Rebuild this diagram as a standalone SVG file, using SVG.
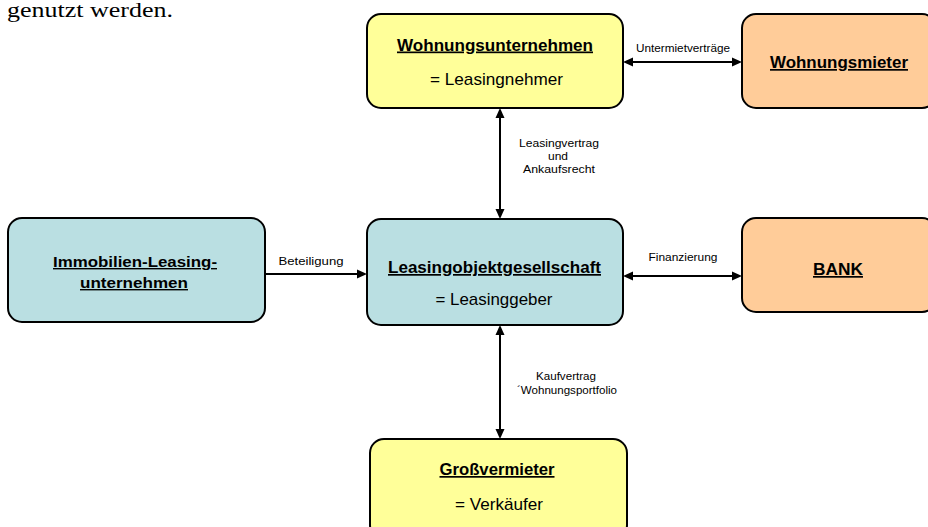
<svg xmlns="http://www.w3.org/2000/svg" width="928" height="527" viewBox="0 0 928 527">
<style>
.box{stroke:#000;stroke-width:2}
.y{fill:#FFFF99}
.b{fill:#BADFE2}
.o{fill:#FFCC99}
.t{font-family:"Liberation Sans",Arial,sans-serif;font-size:17px;fill:#000;text-anchor:middle}
.s{font-size:14px}
.h{font-weight:bold;text-decoration:underline}
.l{font-family:"Liberation Sans",Arial,sans-serif;font-size:11.5px;fill:#000;text-anchor:middle}
.c{stroke:#000;stroke-width:2;fill:none}
</style>
<defs>
<marker id="ah" markerUnits="userSpaceOnUse" markerWidth="10" markerHeight="10" refX="5" refY="4.5" orient="auto-start-reverse" viewBox="0 0 10 9">
<path d="M0,0 L10,4.5 L0,9 z" fill="#000"/>
</marker>
</defs>
<text x="7" y="17" font-family="'Liberation Serif',serif" font-size="20" textLength="166" lengthAdjust="spacingAndGlyphs" fill="#000">genutzt werden.</text>
<g id="connectors">
<line class="c" x1="628" y1="62" x2="737" y2="62" marker-start="url(#ah)" marker-end="url(#ah)"/>
<line class="c" x1="500" y1="113" x2="500" y2="214" marker-start="url(#ah)" marker-end="url(#ah)"/>
<line class="c" x1="265" y1="274" x2="362" y2="274" marker-end="url(#ah)"/>
<line class="c" x1="628" y1="276" x2="737" y2="276" marker-start="url(#ah)" marker-end="url(#ah)"/>
<line class="c" x1="500" y1="330" x2="500" y2="434" marker-start="url(#ah)" marker-end="url(#ah)"/>
<text class="l" x="683" y="52" textLength="94" lengthAdjust="spacingAndGlyphs">Untermietverträge</text>
<text class="l" x="559" y="147" textLength="80" lengthAdjust="spacingAndGlyphs">Leasingvertrag</text>
<text class="l" x="558" y="160" textLength="20" lengthAdjust="spacingAndGlyphs">und</text>
<text class="l" x="559" y="173" textLength="72" lengthAdjust="spacingAndGlyphs">Ankaufsrecht</text>
<text class="l" x="311" y="265" textLength="65" lengthAdjust="spacingAndGlyphs">Beteiligung</text>
<text class="l" x="683" y="261" textLength="69" lengthAdjust="spacingAndGlyphs">Finanzierung</text>
<text class="l" x="566" y="380" textLength="60" lengthAdjust="spacingAndGlyphs">Kaufvertrag</text>
<text class="l" x="567" y="394" textLength="100" lengthAdjust="spacingAndGlyphs">´Wohnungsportfolio</text>
</g>
<g id="wohnungsunternehmen">
<rect class="box y" x="367" y="14" width="256" height="94" rx="14"/>
<text class="t h" x="495" y="50.5" textLength="196" lengthAdjust="spacingAndGlyphs">Wohnungsunternehmen</text>
<text class="t" x="496.5" y="84.5" textLength="133" lengthAdjust="spacingAndGlyphs">= Leasingnehmer</text>
</g>
<g id="wohnungsmieter">
<rect class="box o" x="742" y="14" width="194" height="94" rx="14"/>
<text class="t h" x="839" y="68" textLength="138" lengthAdjust="spacingAndGlyphs">Wohnungsmieter</text>
</g>
<g id="immobilien">
<rect class="box b" x="8" y="218" width="257" height="104" rx="14"/>
<text class="t s h" x="135" y="267" textLength="164" lengthAdjust="spacingAndGlyphs">Immobilien-Leasing-</text>
<text class="t s h" x="134" y="288" textLength="108" lengthAdjust="spacingAndGlyphs">unternehmen</text>
</g>
<g id="leasingobjekt">
<rect class="box b" x="367" y="219" width="256" height="106" rx="14"/>
<text class="t h" x="494.5" y="273" textLength="213" lengthAdjust="spacingAndGlyphs">Leasingobjektgesellschaft</text>
<text class="t" x="494" y="305" textLength="117" lengthAdjust="spacingAndGlyphs">= Leasinggeber</text>
</g>
<g id="bank">
<rect class="box o" x="742" y="218" width="194" height="94" rx="14"/>
<text class="t h" x="838" y="275" textLength="50" lengthAdjust="spacingAndGlyphs">BANK</text>
</g>
<g id="grossvermieter">
<rect class="box y" x="370" y="439" width="257" height="100" rx="14"/>
<text class="t h" x="497" y="475" textLength="115" lengthAdjust="spacingAndGlyphs">Großvermieter</text>
<text class="t" x="499" y="510" textLength="88" lengthAdjust="spacingAndGlyphs">= Verkäufer</text>
</g>
</svg>
